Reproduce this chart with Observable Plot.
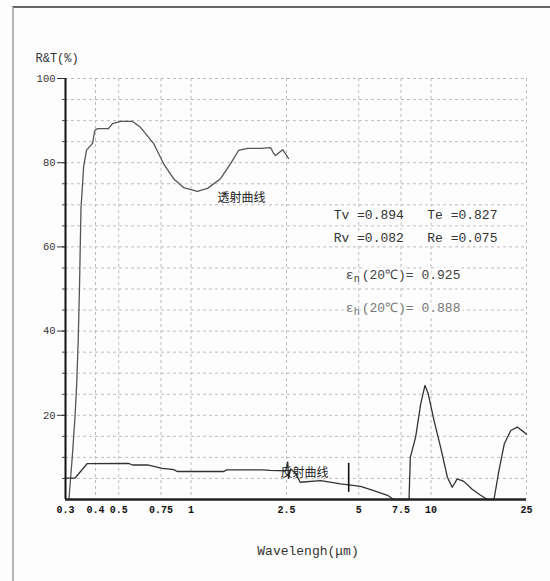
<!DOCTYPE html>
<html><head><meta charset="utf-8">
<script src="https://cdn.jsdelivr.net/npm/d3@7"></script>
<script src="https://cdn.jsdelivr.net/npm/@observablehq/plot@0.6"></script>
<style>
body{margin:0;background:#fdfdfd;}
#wrap{position:relative;width:550px;height:581px;}
#frame{position:absolute;left:12px;top:6px;right:0;bottom:0;border-top:2px solid #666;border-left:2px solid #b4b4b4;pointer-events:none;}
</style></head><body><div id="wrap"><div id="frame"></div></div>
<script>
// ---- data ----
const wavelengthTicks = [0.3, 0.4, 0.5, 0.75, 1, 2.5, 5, 7.5, 10, 25];
const percentTicks = [20, 40, 60, 80, 100];
const minorPercentTicks = [5,10,15,20,25,30,35,40,45,50,55,60,65,70,75,80,85,90,95,100];

// transmission curve (透射曲线)
const transWave = [0.310,0.320,0.329,0.334,0.339,0.343,0.348,0.357,0.367,0.389,0.397,0.408,0.453,0.471,0.509,0.571,0.616,0.698,0.768,0.846,0.931,1.064,1.172,1.328,1.462,1.578,1.721,1.95,2.145,2.21,2.25,2.41,2.55];
const transPct  = [0,10,20,27.5,38,50,69,79,83,84.6,87.6,88.1,88.1,89.3,89.8,89.8,88.4,84.6,79.8,76.2,74.1,73.2,73.9,76.2,79.8,82.9,83.4,83.4,83.6,82.2,81.7,83.1,81.0];

// reflection curve (反射曲线)
const reflWave = [0.300,0.329,0.369,0.549,0.571,0.659,0.759,0.848,0.876,1.37,1.41,1.98,2.14,2.48,2.53,2.55,2.6,2.73,2.85,3.47,4.2,5.09,5.77,6.59,6.98,8.0,8.1,8.2,8.63,9.06,9.44,9.74,10.29,10.97,11.7,12.26,12.86,13.7,14.8,16.1,17.2,18.3,19.2,20.2,21.5,22.9,24.4,25];
const reflPct  = [5.1,5.1,8.5,8.6,8.2,8.2,7.4,7.1,6.65,6.65,7.05,7.05,6.9,6.8,8.9,5.0,7.3,6.2,4.1,4.5,3.7,3.1,2.1,1.0,0,0,0,10,14.8,22.7,27.1,25.1,18.8,12.4,5.3,2.9,4.9,4.3,2.5,1.0,0,0,6.9,13.2,16.4,17.2,16.0,15.5];

// short vertical marker on the reflection curve
const markerWave = [4.54];
const markerLow = [1.7];
const markerHigh = [8.6];

// annotation texts
const summaryLines = ["Tv =0.894   Te =0.827", "Rv =0.082   Re =0.075"];
const summaryY = [67.5, 62.2];
const emissSubs = ["n", "h"];
const emissRest = ["(20℃)= 0.925", "(20℃)= 0.888"];
const emissY = [53.4, 45.6];
const emissColors = ["#444", "#777"];

const mono = "'Liberation Mono','DejaVu Sans Mono',monospace";
const cjk = "'Noto Sans CJK SC','Noto Sans',sans-serif";
const emissX = emissY.map(() => 4.41);

const chart = Plot.plot({
  width: 550,
  height: 581,
  marginLeft: 65,
  marginRight: 24,
  marginTop: 78,
  marginBottom: 82,
  style: {fontFamily: mono, fontSize: "10px", background: "transparent", color: "#222"},
  x: {type: "log", domain: [0.3, 25], label: null, axis: null},
  y: {domain: [0, 100], label: null},
  marks: [
    Plot.gridY(minorPercentTicks, {stroke: "#bdbdbd", strokeOpacity: 1, strokeDasharray: "3,3"}),
    Plot.gridX(wavelengthTicks.slice(1), {stroke: "#bdbdbd", strokeOpacity: 1, strokeDasharray: "3,3"}),
    Plot.line(transPct, {x: transWave, y: transPct, stroke: "#555", strokeWidth: 1.3}),
    Plot.line(reflPct, {x: reflWave, y: reflPct, stroke: "#333", strokeWidth: 1.3}),
    Plot.ruleX(markerWave, {x: markerWave, y1: markerLow, y2: markerHigh, stroke: "#111", strokeWidth: 1.6}),
    Plot.ruleY([0], {stroke: "#222", strokeWidth: 2.5}),
    Plot.ruleX([0.3], {stroke: "#111", strokeWidth: 2}),
    Plot.axisY(minorPercentTicks, {anchor: "left", tickSize: 3, tickFormat: () => "", stroke: "#444"}),
    Plot.axisY(percentTicks, {anchor: "left", tickSize: 8, tickPadding: 2, stroke: "#333", fill: "#333", fontSize: 10.5, tickFormat: d => String(d)}),
    Plot.text(wavelengthTicks, {x: d => d, text: d => String(d), frameAnchor: "bottom", dy: 13, fill: "#111", fontSize: 10, fontWeight: "bold"}),
    Plot.text(["透射曲线"], {x: [1.29], y: [71.5], textAnchor: "start", fontFamily: cjk, fontSize: 12, fill: "#222"}),
    Plot.text(["反射曲线"], {x: [2.36], y: [6.2], textAnchor: "start", fontFamily: cjk, fontSize: 12, fill: "#222"}),
    Plot.text(summaryLines, {x: summaryLines.map(() => 3.93), y: summaryY, textAnchor: "start", fontSize: 13, fill: "#333", stroke: "#fdfdfd", strokeWidth: 7}),
    // emissivity lines: ε + subscript + rest
    Plot.text(emissRest, {x: emissX, y: emissY, text: () => "ε", textAnchor: "start", fontSize: 13, fill: emissColors, stroke: "#fdfdfd", strokeWidth: 6}),
    Plot.text(emissRest, {x: emissX, y: emissY, dx: 16, text: d => d, textAnchor: "start", fontSize: 13, fill: emissColors, stroke: "#fdfdfd", strokeWidth: 6}),
    Plot.text(emissSubs, {x: emissX, y: emissY, dx: 8, dy: 4, text: d => d, textAnchor: "start", fontSize: 10, fill: emissColors}),
    Plot.text(["R&T(%)"], {frameAnchor: "top-left", dx: -30, dy: -25, textAnchor: "start", fontSize: 12, fill: "#333"}),
    Plot.text(["Wavelengh(μm)"], {frameAnchor: "bottom", dx: 12, dy: 55, fontSize: 13, fill: "#333"})
  ]
});
document.getElementById("wrap").prepend(chart);
</script>
</body></html>
